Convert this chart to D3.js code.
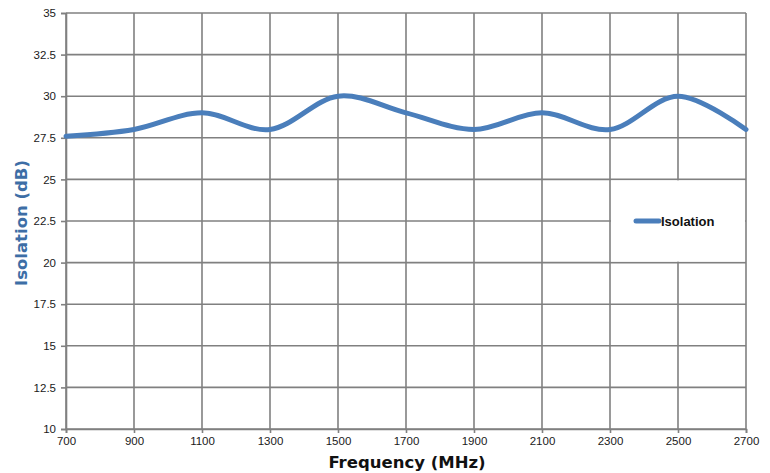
<!DOCTYPE html>
<html>
<head>
<meta charset="utf-8">
<script src="https://cdn.jsdelivr.net/npm/d3@7"></script>
<style>
  body { margin: 0; background: #fff; }
  svg { display: block; }
</style>
</head>
<body>
<script>
// chart data
var freqs = [700, 900, 1100, 1300, 1500, 1700, 1900, 2100, 2300, 2500, 2700];
var isolation = [27.6, 28, 29, 28, 30, 29, 28, 29, 28, 30, 28];
var xTicks = [700, 900, 1100, 1300, 1500, 1700, 1900, 2100, 2300, 2500, 2700];
var yTicks = [10, 12.5, 15, 17.5, 20, 22.5, 25, 27.5, 30, 32.5, 35];
var seriesName = 'Isolation';

var width = 770, height = 473;
var margin = {left: 66, top: 13, right: 24, bottom: 44};

var svg = d3.select('body').append('svg')
  .attr('width', width)
  .attr('height', height);

var x = d3.scaleLinear().domain([700, 2700]).range([margin.left, width - margin.right]);
var y = d3.scaleLinear().domain([10, 35]).range([height - margin.bottom, margin.top]);

var grid = '#808080';

// gridlines
svg.append('g').selectAll('line').data(yTicks).enter().append('line')
  .attr('x1', x(700)).attr('x2', x(2700))
  .attr('y1', function(d) { return y(d); }).attr('y2', function(d) { return y(d); })
  .attr('stroke', grid).attr('stroke-width', 1.6);

svg.append('g').selectAll('line').data(xTicks).enter().append('line')
  .attr('x1', function(d) { return x(d); }).attr('x2', function(d) { return x(d); })
  .attr('y1', y(35)).attr('y2', y(10))
  .attr('stroke', grid).attr('stroke-width', 1.6);

// axes
var yAxis = svg.append('g')
  .attr('transform', 'translate(' + margin.left + ',0)')
  .call(d3.axisLeft(y).tickValues(yTicks).tickSize(5).tickPadding(5)
    .tickFormat(function(d) { return String(d); }));

var xAxis = svg.append('g')
  .attr('transform', 'translate(0,' + (height - margin.bottom) + ')')
  .call(d3.axisBottom(x).tickValues(xTicks).tickSize(4).tickPadding(4)
    .tickFormat(function(d) { return String(d); }));

[xAxis, yAxis].forEach(function(a) {
  a.select('.domain').attr('stroke', grid).attr('stroke-width', 1.6);
  a.selectAll('.tick line').attr('stroke', grid).attr('stroke-width', 1.6);
  a.selectAll('text').attr('font-family', 'Liberation Sans, Arial, sans-serif')
    .attr('font-size', 11.5).attr('fill', '#1a1a1a');
});

// series line
var line = d3.line()
  .x(function(d, i) { return x(freqs[i]); })
  .y(function(d) { return y(d); })
  .curve(d3.curveCardinal.tension(0));

svg.append('path')
  .datum(isolation)
  .attr('d', line)
  .attr('fill', 'none')
  .attr('stroke', '#4a7ebb')
  .attr('stroke-width', 5)
  .attr('stroke-linecap', 'round');

// legend
var lg = svg.append('g');
lg.append('rect')
  .attr('x', x(2300) + 1).attr('y', y(25) + 1)
  .attr('width', x(2700) - x(2300) - 2).attr('height', y(20) - y(25) - 2)
  .attr('fill', '#fff');
lg.append('line')
  .attr('x1', 636).attr('x2', 659).attr('y1', 221).attr('y2', 221)
  .attr('stroke', '#4a7ebb').attr('stroke-width', 5).attr('stroke-linecap', 'round');
lg.append('text')
  .attr('x', 661).attr('y', 226)
  .attr('font-family', 'Liberation Sans, Arial, sans-serif')
  .attr('font-weight', 'bold').attr('font-size', 13).attr('fill', '#111')
  .text(seriesName);

// axis titles
svg.append('text')
  .attr('x', 407).attr('y', 468)
  .attr('text-anchor', 'middle')
  .attr('font-family', 'DejaVu Sans, Verdana, sans-serif')
  .attr('font-weight', 'bold').attr('font-size', 16.5).attr('fill', '#111')
  .text('Frequency (MHz)');

svg.append('text')
  .attr('transform', 'translate(27,' + (y(22.5) + 2) + ') rotate(-90)')
  .attr('text-anchor', 'middle')
  .attr('font-family', 'DejaVu Sans, Verdana, sans-serif')
  .attr('font-weight', 'bold').attr('font-size', 16.5).attr('fill', '#3d6ea6')
  .text('Isolation (dB)');
</script>
</body>
</html>
